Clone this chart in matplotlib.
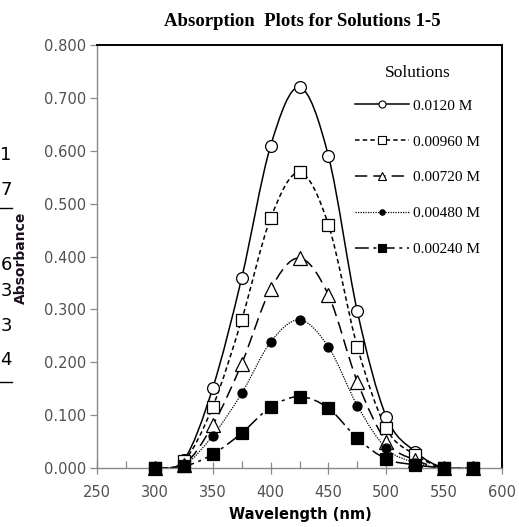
import numpy as np
import matplotlib
matplotlib.use('Agg')
import matplotlib.pyplot as plt
from matplotlib.path import Path
from matplotlib.patches import PathPatch
from matplotlib.lines import Line2D

# ---------------- data ----------------
wavelength = [300, 325, 350, 375, 400, 425, 450, 475, 500, 525, 550, 575]
series_labels = ['0.0120 M', '0.00960 M', '0.00720 M', '0.00480 M', '0.00240 M']
abs_0120 = [0.000, 0.015, 0.151, 0.359, 0.609, 0.720, 0.590, 0.296, 0.097, 0.031, 0.000, 0.000]
abs_0096 = [0.000, 0.013, 0.116, 0.280, 0.472, 0.559, 0.460, 0.229, 0.075, 0.025, 0.000, 0.000]
abs_0072 = [0.000, 0.006, 0.081, 0.197, 0.338, 0.397, 0.327, 0.163, 0.050, 0.015, 0.000, 0.000]
abs_0048 = [0.000, 0.005, 0.061, 0.141, 0.238, 0.280, 0.229, 0.118, 0.037, 0.010, 0.000, 0.000]
abs_0024 = [0.000, 0.003, 0.026, 0.066, 0.115, 0.135, 0.113, 0.056, 0.017, 0.006, 0.000, 0.000]
x_ticks = [250, 300, 350, 400, 450, 500, 550, 600]
y_ticks = [0.0, 0.1, 0.2, 0.3, 0.4, 0.5, 0.6, 0.7, 0.8]
title = 'Absorption  Plots for Solutions 1-5'
edge_fragments = ['1', '7', '6', '3', '3', '4']

all_series = [abs_0120, abs_0096, abs_0072, abs_0048, abs_0024]

W, H = 519, 527
fig = plt.figure(figsize=(W / 100, H / 100), dpi=100)
ax = fig.add_axes([97 / W, 1 - 468 / H, (502 - 97) / W, (468 - 45) / H])

styles = [
    dict(ls='-', lw=1.1, marker='o', ms=8.5, mfc='white', mec='black', mew=0.9),
    dict(ls=(0, (3, 2)), lw=1.1, marker='s', ms=9, mfc='white', mec='black', mew=0.9),
    dict(ls=(0, (8, 4)), lw=1.1, marker='^', ms=10.5, mfc='white', mec='black', mew=0.9),
    dict(ls=(0, (1, 1)), lw=0.9, marker='o', ms=6.5, mfc='black', mec='black', mew=0.9),
    dict(ls=(0, (9, 3, 2, 3)), lw=1.1, marker='s', ms=8.5, mfc='black', mec='black', mew=0.9),
]


def smooth_path(xs, ys):
    pts = np.column_stack([xs, ys]).astype(float)
    n = len(pts)
    verts = [pts[0]]
    codes = [Path.MOVETO]
    for i in range(n - 1):
        p0 = pts[i - 1] if i > 0 else pts[i]
        p1 = pts[i]
        p2 = pts[i + 1]
        p3 = pts[i + 2] if i + 2 < n else pts[i + 1]
        c1 = p1 + (p2 - p0) / 6.0
        c2 = p2 - (p3 - p1) / 6.0
        verts += [c1, c2, p2]
        codes += [Path.CURVE4] * 3
    return Path(verts, codes)


handles = []
for ys, st, lab in zip(all_series, styles, series_labels):
    patch = PathPatch(smooth_path(wavelength, ys), fill=False, edgecolor='black',
                      lw=st['lw'], linestyle=st['ls'], zorder=2)
    ax.add_patch(patch)
    ax.plot(wavelength, ys, ls='none', marker=st['marker'], ms=st['ms'],
            mfc=st['mfc'], mec=st['mec'], mew=st['mew'], zorder=3, clip_on=False)
    handles.append(Line2D([], [], color='black', lw=st['lw'], ls=st['ls'],
                          marker=st['marker'], ms=st['ms'] * 0.6, mfc=st['mfc'],
                          mec=st['mec'], mew=0.8, label=lab))

ax.set_xlim(250, 600)
ax.set_ylim(0, 0.8)
ax.set_xticks(x_ticks)
ax.set_xticks(np.arange(275, 600, 50), minor=True)
ax.set_yticks(y_ticks)
ax.set_yticklabels([f'{v:.3f}' for v in y_ticks])

for lbl in ax.get_xticklabels() + ax.get_yticklabels():
    lbl.set_fontfamily('DejaVu Sans')
    lbl.set_fontsize(10.5)
    lbl.set_color('#505050')

ax.tick_params(axis='y', direction='out', length=5, width=0.9, color='#888888', pad=3)
ax.tick_params(axis='x', which='major', direction='inout', length=9, width=0.9,
               color='#888888', pad=8)
ax.tick_params(axis='x', which='minor', direction='in', length=5, width=0.9, color='#888888')

ax.spines['left'].set_color('#888888')
ax.spines['left'].set_linewidth(1.0)
ax.spines['bottom'].set_color('#888888')
ax.spines['bottom'].set_linewidth(1.0)
ax.spines['top'].set_color('black')
ax.spines['top'].set_linewidth(1.4)
ax.spines['right'].set_color('black')
ax.spines['right'].set_linewidth(1.4)

fig.text(302 / W, 1 - 21 / H, title, ha='center', va='center',
         family='Liberation Serif', weight='bold', fontsize=13.5)
fig.text(300 / W, 1 - 515 / H, 'Wavelength (nm)', ha='center', va='center',
         family='DejaVu Sans', weight='bold', fontsize=10.5)
fig.text(21 / W, 1 - 258 / H, 'Absorbance', ha='center', va='center', rotation=90,
         family='DejaVu Sans', weight='bold', fontsize=10, color='#1a1020')

leg = ax.legend(handles=handles, loc='upper left',
                bbox_to_anchor=(352 / W, 1 - 62 / H), bbox_transform=fig.transFigure,
                frameon=False, prop=dict(family='Liberation Serif', size=11),
                title='Solutions', title_fontproperties=dict(family='Liberation Serif', size=12.5),
                handlelength=3.5, handletextpad=0.3, labelspacing=1.45,
                borderpad=0.2, borderaxespad=0)
leg._legend_box.sep = 13

# fragments of neighbouring content visible at the left edge of the image
frag_y = [155, 190, 265, 291, 326, 360]
for ch, yy in zip(edge_fragments, frag_y):
    fig.text(0.5 / W, 1 - yy / H, ch, ha='left', va='center', fontsize=13,
             family='DejaVu Sans', color='black')
for yy in [208, 382]:
    fig.add_artist(Line2D([0, 12 / W], [1 - yy / H, 1 - yy / H], color='black', lw=1.0,
                          transform=fig.transFigure))

fig.savefig('out.png', dpi=100)
